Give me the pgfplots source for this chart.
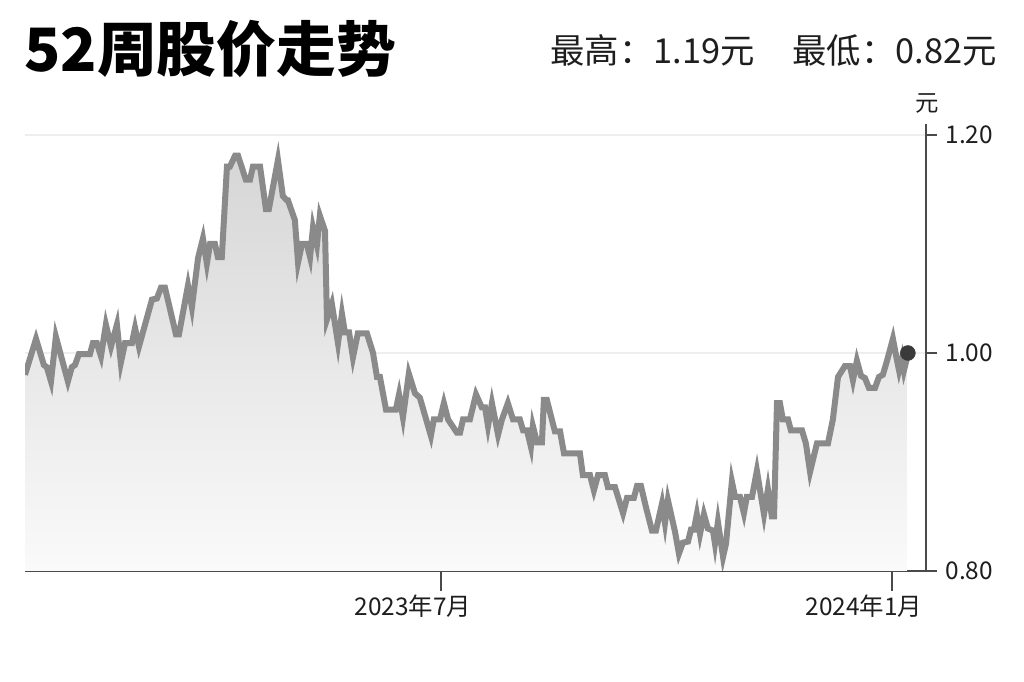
\documentclass[border=0pt]{standalone}
\usepackage{fontspec}
\setmainfont{Noto Sans CJK SC}
\usepackage{graphicx}
\usepackage{pgfplots}
\pgfplotsset{compat=1.18}
\definecolor{linegray}{HTML}{8A8A8A}
\definecolor{axiscol}{HTML}{4A4A4A}
\definecolor{gridcol}{HTML}{EEEEEE}
\definecolor{labelcol}{HTML}{1E1E1E}
\definecolor{dotcol}{HTML}{3A3A3A}
\definecolor{filltop}{HTML}{D6D6D6}
\definecolor{fillbot}{HTML}{FAFAFA}

\pgfplotstableread{
d v
-169.7 0.980
-165.2 1.013
-162.0 0.989
-160.8 0.987
-159.1 0.974
-157.1 1.015
-152.2 0.974
-150.6 0.987
-149.3 0.989
-147.7 0.999
-143.2 0.999
-142.0 1.009
-140.4 1.009
-138.7 0.997
-136.7 1.026
-134.6 1.006
-132.2 1.026
-130.6 0.991
-128.9 1.009
-126.1 1.009
-124.8 1.023
-123.2 1.006
-117.9 1.049
-115.9 1.050
-114.2 1.060
-112.6 1.060
-108.1 1.017
-106.9 1.017
-103.2 1.062
-101.6 1.042
-99.1 1.087
-97.1 1.105
-95.5 1.082
-94.2 1.100
-92.2 1.100
-91.0 1.088
-89.4 1.088
-87.3 1.171
-86.1 1.171
-84.0 1.181
-82.8 1.181
-79.6 1.159
-77.9 1.159
-76.7 1.171
-73.8 1.171
-71.4 1.132
-70.2 1.132
-66.5 1.177
-64.5 1.144
-62.8 1.140
-62.4 1.140
-59.6 1.122
-58.3 1.083
-56.7 1.100
-54.7 1.100
-53.4 1.088
-52.2 1.115
-50.6 1.099
-49.4 1.126
-47.3 1.112
-46.5 1.031
-44.5 1.045
-42.0 1.009
-40.4 1.036
-39.2 1.019
-37.5 1.019
-35.9 0.996
-33.9 1.018
-30.2 1.018
-27.7 1.000
-26.1 0.978
-24.9 0.978
-22.4 0.948
-18.4 0.948
-17.1 0.962
-15.5 0.941
-13.1 0.981
-10.6 0.963
-8.6 0.959
-4.1 0.924
-2.9 0.939
-0.4 0.939
1.2 0.954
2.9 0.939
6.5 0.927
7.8 0.927
9.0 0.939
11.8 0.939
14.3 0.962
16.7 0.950
18.0 0.950
19.2 0.933
20.8 0.954
23.3 0.925
24.9 0.939
27.3 0.954
29.4 0.939
32.2 0.939
33.5 0.929
35.1 0.929
36.7 0.914
37.5 0.933
39.2 0.918
41.2 0.918
42.0 0.957
43.2 0.957
46.5 0.928
48.6 0.928
50.2 0.908
56.7 0.908
57.9 0.888
60.8 0.888
62.4 0.874
64.1 0.888
66.9 0.888
68.1 0.877
71.0 0.877
74.3 0.853
75.9 0.867
78.7 0.867
80.0 0.878
81.6 0.878
83.6 0.859
86.1 0.837
87.7 0.837
90.2 0.862
91.4 0.844
92.6 0.865
95.5 0.836
97.1 0.816
98.7 0.826
100.8 0.827
102.0 0.838
103.2 0.838
104.4 0.852
105.7 0.834
107.3 0.852
108.9 0.839
111.0 0.837
111.8 0.825
113.0 0.845
115.1 0.813
116.3 0.825
118.7 0.882
120.0 0.868
122.0 0.868
123.6 0.853
124.8 0.868
126.9 0.868
128.9 0.892
131.8 0.852
133.4 0.875
135.0 0.850
135.9 0.850
137.1 0.954
138.3 0.954
139.5 0.939
141.6 0.939
142.8 0.929
147.3 0.929
148.9 0.917
150.6 0.891
153.4 0.917
157.9 0.917
159.9 0.939
162.0 0.978
164.8 0.988
166.9 0.988
168.1 0.975
169.7 0.993
171.4 0.979
173.0 0.977
174.6 0.968
177.1 0.968
178.7 0.978
180.3 0.980
182.0 0.993
184.4 1.013
186.0 0.994
186.9 0.984
188.1 0.995
188.9 0.984
190.1 0.995
}\price

\begin{document}
\begin{tikzpicture}
\path[use as bounding box, fill=white] (0,0) rectangle (1024bp,682bp);
\begin{axis}[
  at={(25bp,111bp)}, anchor=south west,
  scale only axis, width=901bp, height=446.9bp,
  xmin=-169.7, xmax=197.9, ymin=0.8, ymax=1.21,
  axis x line*=bottom, axis y line*=right,
  axis line style={draw=axiscol, line width=1.3bp},
  tick style={draw=axiscol, line width=1.3bp},
  tick align=outside, major tick length=11bp,
  xtick={0,184}, xticklabels={2023年7月,2024年1月},
  xtick style={draw=none},
  ytick={0.8,1.0,1.2}, yticklabels={0.80,1.00,1.20},
  minor tick num=0,
  ymajorgrids, grid style={draw=gridcol, line width=2.8bp},
  tick label style={font=\fontsize{24.5}{24.5}\selectfont, text=labelcol},
  xticklabel style={anchor=north, xshift=-28bp, yshift=-9bp},
  yticklabel style={anchor=west, xshift=5bp},
]
\addplot[top color=filltop, bottom color=fillbot, draw=none, forget plot] table[x=d, y=v] {\price} -- (axis cs:190.1,0.8) -- (axis cs:-169.7,0.8) -- cycle;
\addplot[draw=linegray, line width=6bp] table[x=d, y=v] {\price};
\addplot[only marks, mark=*, mark size=7.5bp, mark options={draw=dotcol, fill=dotcol}] coordinates {(190.5,1.000)};
\end{axis}
\begin{axis}[
  at={(25bp,111bp)}, anchor=south west,
  scale only axis, width=901bp, height=446.9bp,
  xmin=-169.7, xmax=197.9, ymin=0.8, ymax=1.21,
  axis x line*=bottom, hide y axis,
  x axis line style={draw=none},
  tick style={draw=axiscol, line width=1.3bp},
  tick align=outside, major tick length=20bp,
  xtick={0,184}, xticklabels={}, minor tick num=0,
]
\end{axis}
\node[anchor=base west, inner sep=0pt, text=black] at (24bp,610bp) {\fontsize{60}{60}\selectfont\bfseries 52周股价走势};
\node[anchor=base east, inner sep=0pt, text=labelcol] at (997bp,618bp) {\fontsize{34.5}{34.5}\selectfont 最高：1.19元\hspace{1.1em}最低：0.82元};
\node[inner sep=0pt, text=labelcol] at (927bp,579bp) {\fontsize{23.5}{23.5}\selectfont 元};
\end{tikzpicture}
\end{document}
